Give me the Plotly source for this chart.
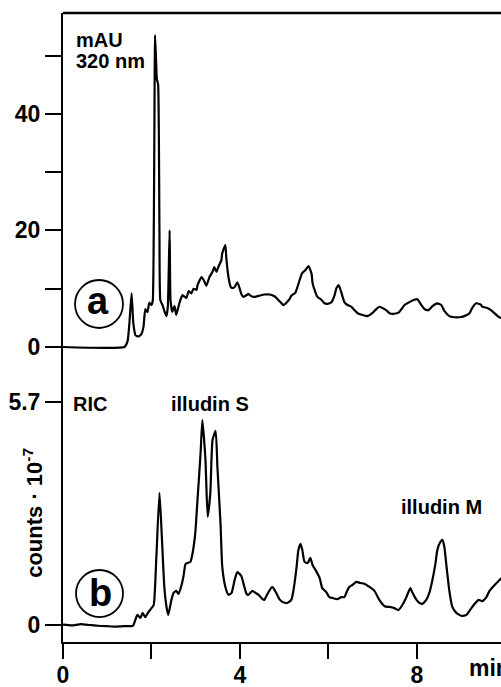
import plotly.graph_objects as go

# ---------------- data ----------------
time_a = [0.00, 1.39, 1.46, 1.50, 1.55, 1.59, 1.64, 1.71, 1.77, 1.82,
          1.86, 1.91, 1.95, 2.00, 2.03, 2.08, 2.10, 2.12, 2.15, 2.18,
          2.20, 2.25, 2.29, 2.34, 2.37, 2.41, 2.43, 2.47, 2.52, 2.56,
          2.63, 2.70, 2.79, 2.84, 2.90, 2.95, 3.02, 3.04, 3.13, 3.18,
          3.24, 3.31, 3.38, 3.42, 3.47, 3.51, 3.58, 3.60, 3.67, 3.69,
          3.74, 3.79, 3.83, 3.88, 3.94, 3.97, 4.03, 4.08, 4.15, 4.19,
          4.26, 4.33, 4.44, 4.55, 4.67, 4.78, 4.85, 4.94, 4.98, 5.05,
          5.12, 5.16, 5.25, 5.30, 5.37, 5.41, 5.48, 5.55, 5.62, 5.64,
          5.71, 5.75, 5.84, 5.91, 5.98, 6.07, 6.14, 6.18, 6.23, 6.29,
          6.36, 6.43, 6.52, 6.59, 6.66, 6.77, 6.88, 6.99, 7.08, 7.15,
          7.22, 7.31, 7.38, 7.49, 7.60, 7.72, 7.83, 7.94, 8.01, 8.10,
          8.17, 8.26, 8.35, 8.46, 8.55, 8.62, 8.73, 8.85, 8.96, 9.07,
          9.19, 9.25, 9.34, 9.44, 9.48, 9.59, 9.68, 9.75, 9.86, 10.0]
mau_a = [0, 0, 1.0, 4, 9.2, 4, 2.0, 1.8, 2.2, 3.5,
         6.5, 6.0, 7.6, 7.2, 8.0, 53.5, 50, 46, 45, 20,
         8, 7.2, 6.2, 5.3, 7, 20, 8, 6.0, 7.0, 5.5,
         7.5, 8.9, 8.4, 9.6, 9.2, 10.0, 9.8, 10.6, 12.0, 11.5,
         10.5, 12.0, 12.9, 13.7, 12.9, 13.7, 14.9, 16.1, 17.5, 15.4,
         12.0, 10.3, 10.1, 10.3, 11.1, 10.6, 9.1, 8.6, 8.9, 9.1,
         8.7, 8.6, 8.8, 9.0, 9.0, 8.7, 8.2, 7.5, 7.2, 7.6,
         8.2, 8.8, 9.3, 10.3, 12.0, 12.7, 13.2, 13.9, 12.5, 11.0,
         9.3, 8.6, 8.1, 7.5, 7.4, 7.7, 8.9, 10.1, 10.6, 9.4,
         7.7, 7.2, 6.9, 6.3, 5.8, 5.5, 5.3, 5.8, 6.5, 6.9,
         6.7, 6.3, 5.8, 5.7, 6.0, 7.2, 7.7, 8.1, 8.2, 7.2,
         6.5, 6.3, 7.0, 7.5, 7.2, 6.2, 5.3, 5.1, 5.1, 5.3,
         5.8, 6.7, 7.5, 7.3, 6.9, 6.7, 6.3, 5.8, 5.1, 4.8]

time_b = [0.00, 0.20, 0.40, 0.60, 0.80, 1.00, 1.20, 1.40, 1.58, 1.68,
          1.75, 1.80, 1.86, 1.93, 2.00, 2.05, 2.11, 2.18, 2.23, 2.29,
          2.34, 2.38, 2.45, 2.50, 2.56, 2.61, 2.68, 2.72, 2.77, 2.81,
          2.88, 2.93, 2.99, 3.04, 3.11, 3.15, 3.22, 3.27, 3.33, 3.38,
          3.45, 3.49, 3.56, 3.60, 3.67, 3.74, 3.81, 3.88, 3.94, 4.03,
          4.10, 4.15, 4.19, 4.28, 4.35, 4.42, 4.51, 4.55, 4.62, 4.73,
          4.82, 4.89, 4.96, 5.07, 5.16, 5.21, 5.28, 5.32, 5.37, 5.41,
          5.46, 5.53, 5.59, 5.64, 5.71, 5.80, 5.86, 5.95, 6.02, 6.09,
          6.20, 6.29, 6.36, 6.41, 6.47, 6.54, 6.63, 6.72, 6.81, 6.90,
          7.04, 7.15, 7.27, 7.38, 7.49, 7.58, 7.67, 7.76, 7.85, 7.90,
          7.99, 8.06, 8.12, 8.21, 8.28, 8.35, 8.42, 8.46, 8.53, 8.58,
          8.62, 8.67, 8.73, 8.80, 8.89, 9.01, 9.12, 9.23, 9.32, 9.39,
          9.48, 9.57, 9.64, 9.73, 9.80, 9.89, 10.0]
ric_b = [0.01, -0.01, 0.02, 0.00, -0.02, -0.03, -0.04, -0.03, -0.02, 0.26,
         0.18, 0.31, 0.20, 0.33, 0.43, 0.51, 1.73, 3.37, 2.35, 0.97,
         0.46, 0.26, 0.64, 0.82, 0.87, 0.79, 1.02, 1.22, 1.56, 1.58,
         1.61, 1.84, 2.35, 3.19, 4.39, 5.23, 4.21, 2.76, 3.37, 4.72,
         4.95, 4.03, 2.60, 1.48, 0.97, 0.77, 0.82, 1.15, 1.35, 1.25,
         0.97, 0.79, 0.77, 0.87, 0.82, 0.77, 0.66, 0.64, 0.79, 0.97,
         0.82, 0.66, 0.59, 0.56, 0.64, 0.89, 1.48, 1.91, 2.07, 1.91,
         1.61, 1.58, 1.71, 1.53, 1.40, 1.20, 0.94, 0.84, 0.71, 0.69,
         0.66, 0.71, 0.71, 0.84, 0.97, 1.02, 1.10, 1.07, 1.05, 0.99,
         0.87, 0.64, 0.48, 0.46, 0.43, 0.38, 0.51, 0.71, 0.94, 0.82,
         0.64, 0.56, 0.54, 0.64, 0.82, 1.15, 1.58, 1.91, 2.12, 2.17,
         1.99, 1.48, 0.89, 0.46, 0.31, 0.23, 0.26, 0.43, 0.56, 0.64,
         0.61, 0.71, 0.87, 0.99, 1.07, 1.17, 1.3]

x_tickvals = [0, 2, 4, 6, 8]
x_ticktext = ["0", "", "4", "", "8"]
ya_tickvals = [0, 10, 20, 30, 40, 50]
ya_ticktext = ["0", "", "20", "", "40", ""]
yb_tickvals = [0, 5.7]
yb_ticktext = ["0", "5.7"]

FONT = "Liberation Sans"
SPLIT = 0.41653

fig = go.Figure()
fig.add_trace(go.Scatter(x=time_a, y=mau_a, mode="lines", xaxis="x", yaxis="y2",
                         line=dict(color="black", width=2.2, shape="spline", smoothing=0.4),
                         hoverinfo="skip"))
fig.add_trace(go.Scatter(x=time_b, y=ric_b, mode="lines", xaxis="x", yaxis="y",
                         line=dict(color="black", width=2.2, shape="spline", smoothing=0.5),
                         hoverinfo="skip"))

tickfont = dict(family=FONT, size=23, color="black", weight="bold")
common_y = dict(showline=True, linecolor="black", linewidth=2, ticks="outside",
                ticklen=16, tickwidth=2, tickcolor="black", showgrid=False,
                zeroline=False, tickfont=tickfont, ticklabelstandoff=0,
                automargin=False)

fig.update_layout(
    width=501, height=687,
    margin=dict(l=63, r=0, t=13, b=45, autoexpand=False),
    paper_bgcolor="white", plot_bgcolor="white",
    showlegend=False,
    xaxis=dict(range=[0, 9.9], domain=[0, 1], anchor="y", showline=True,
               linecolor="black", linewidth=2, ticks="outside", ticklen=15,
               tickwidth=2, tickcolor="black", tickvals=x_tickvals,
               ticktext=x_ticktext, tickfont=tickfont, showgrid=False,
               zeroline=False, ticklabelstandoff=-4, automargin=False),
    yaxis=dict(domain=[0, SPLIT], range=[-0.434, 6.25], anchor="x",
               tickvals=yb_tickvals, ticktext=yb_ticktext, **common_y),
    yaxis2=dict(domain=[SPLIT, 1], range=[-5.66, 57.29], anchor="x",
                tickvals=ya_tickvals, ticktext=ya_ticktext, **common_y),
)

# top frame line of panel a
fig.add_shape(type="line", xref="paper", yref="paper", x0=0, x1=1, y0=1, y1=1,
              line=dict(color="black", width=2.5))
# circled panel letters
fig.add_shape(type="circle", xref="paper", yref="paper",
              x0=0.0274, x1=0.137, y0=0.4992, y1=0.5755,
              line=dict(color="black", width=1.8))
fig.add_shape(type="circle", xref="paper", yref="paper",
              x0=0.0297, x1=0.137, y0=0.0397, y1=0.1145,
              line=dict(color="black", width=1.8))

def ann(text, x, y, xref, yref, size=20, xanchor="center", yanchor="middle", angle=0):
    fig.add_annotation(text=text, x=x, y=y, xref=xref, yref=yref, showarrow=False,
                       xanchor=xanchor, yanchor=yanchor, textangle=angle,
                       font=dict(family=FONT, size=size, color="black", weight="bold"))

ann("a", 0.0799, 0.5421, "paper", "paper", size=38)
ann("b", 0.0845, 0.0779, "paper", "paper", size=38)
ann("mAU", 0.25, 52.7, "x", "y2", xanchor="left")
ann("320 nm", 0.25, 49.1, "x", "y2", xanchor="left")
ann("RIC", 0.17, 5.64, "x", "y", xanchor="left")
ann("illudin S", 3.32, 5.64, "x", "y")
ann("illudin M", 8.545, 3.0, "x", "y")
ann("min", 9.13, -0.041, "x", "paper", size=23, xanchor="left")
ann("counts · 10<sup>-7</sup>", -0.0690, 0.2050, "paper", "paper", size=22, angle=-90)

fig.write_html("out.html", config={"displayModeBar": False},
               post_script="document.body.style.margin='0px';"
                           "document.body.style.overflow='hidden';")
